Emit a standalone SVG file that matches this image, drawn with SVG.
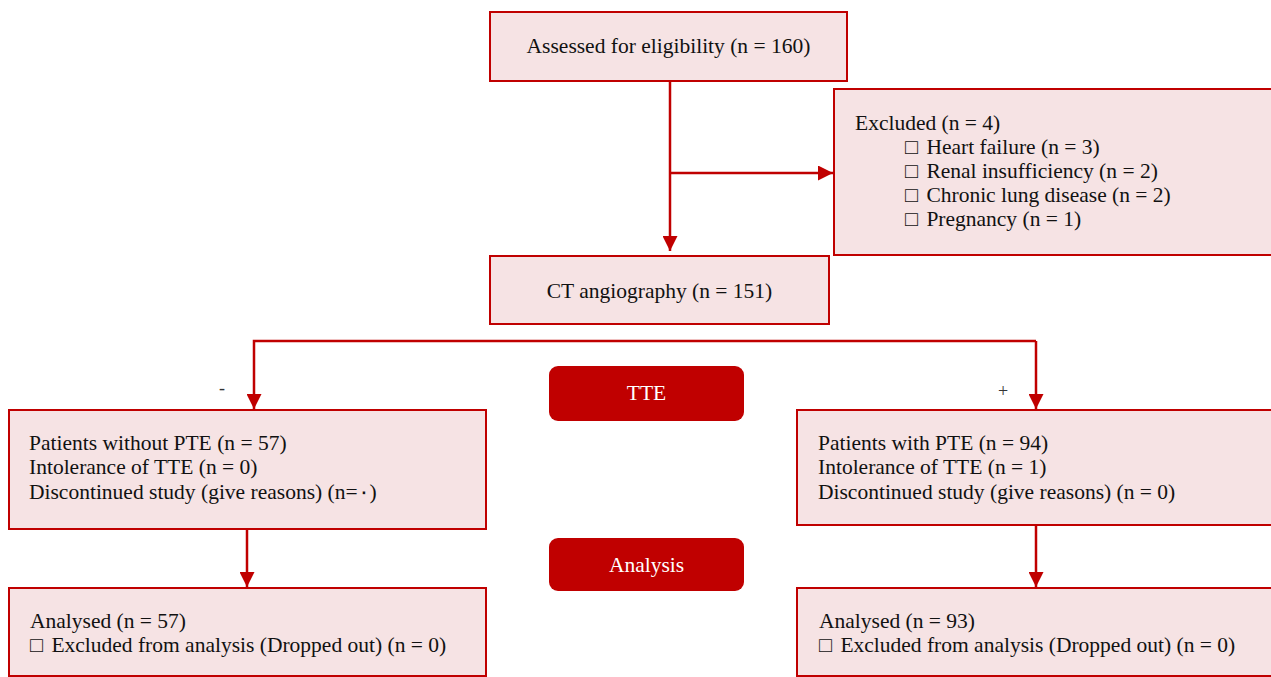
<svg xmlns="http://www.w3.org/2000/svg" width="1271" height="677" viewBox="0 0 1271 677">
<style>
.box{fill:#F6E3E4;stroke:#C00000;stroke-width:2}
.btn{fill:#C00000}
.t{font-family:"Liberation Serif","Times New Roman",serif;font-size:21.5px;fill:#111}
.w{font-family:"Liberation Serif","Times New Roman",serif;font-size:21.5px;fill:#fff}
.c{text-anchor:middle}
.ln{fill:none;stroke:#C00000;stroke-width:2.5}
.s{font-family:"Liberation Serif","Times New Roman",serif;font-size:18px;fill:#333}
</style>
<defs>
<marker id="ah" viewBox="0 0 10 10" refX="10" refY="5" markerWidth="6" markerHeight="6" markerUnits="strokeWidth" orient="auto">
<path d="M0,0 L10,5 L0,10 z" fill="#C00000"/>
</marker>
</defs>
<rect width="1271" height="677" fill="#fff"/>
<g id="connectors">
<path class="ln" d="M670,81 V251" marker-end="url(#ah)"/>
<path class="ln" d="M670,173 H833" marker-end="url(#ah)"/>
<path class="ln" d="M1036,341 H254 V409" marker-end="url(#ah)"/>
<path class="ln" d="M1036,341 V409" marker-end="url(#ah)"/>
<path class="ln" d="M247,529 V587" marker-end="url(#ah)"/>
<path class="ln" d="M1036,525 V587" marker-end="url(#ah)"/>
<text class="s" x="219" y="394">-</text>
<text class="s" x="998" y="397">+</text>
</g>
<g id="assessed">
<rect class="box" x="490" y="12" width="357" height="69"/>
<text class="t c" x="668.5" y="53">Assessed for eligibility (n = 160)</text>
</g>
<g id="excluded">
<rect class="box" x="834" y="89" width="460" height="166"/>
<text class="t" x="855" y="130">Excluded (n = 4)</text>
<text class="t" x="905" y="154">□ <tspan dx="3">Heart failure (n = 3)</tspan></text>
<text class="t" x="905" y="178">□ <tspan dx="3">Renal insufficiency (n = 2)</tspan></text>
<text class="t" x="905" y="202">□ <tspan dx="3">Chronic lung disease (n = 2)</tspan></text>
<text class="t" x="905" y="226">□ <tspan dx="3">Pregnancy (n = 1)</tspan></text>
</g>
<g id="ct">
<rect class="box" x="490" y="256" width="339" height="68"/>
<text class="t c" x="659.5" y="298">CT angiography (n = 151)</text>
</g>
<g id="tte">
<rect class="btn" x="549" y="366" width="195" height="55" rx="9"/>
<text class="w c" x="646.5" y="400">TTE</text>
</g>
<g id="analysis">
<rect class="btn" x="549" y="538" width="195" height="53" rx="9"/>
<text class="w c" x="646.5" y="572">Analysis</text>
</g>
<g id="without">
<rect class="box" x="9" y="410" width="477" height="119"/>
<text class="t" x="29" y="450">Patients without PTE (n = 57)</text>
<text class="t" x="29" y="474">Intolerance of TTE (n = 0)</text>
<text class="t" x="29" y="499">Discontinued study (give reasons) (n=٠)</text>
</g>
<g id="with">
<rect class="box" x="797" y="410" width="500" height="115"/>
<text class="t" x="818" y="450">Patients with PTE (n = 94)</text>
<text class="t" x="818" y="474">Intolerance of TTE (n = 1)</text>
<text class="t" x="818" y="499">Discontinued study (give reasons) (n = 0)</text>
</g>
<g id="analysed-left">
<rect class="box" x="9" y="588" width="477" height="88"/>
<text class="t" x="30" y="628">Analysed (n = 57)</text>
<text class="t" x="30" y="652">□ <tspan dx="3">Excluded from analysis (Dropped out) (n = 0)</tspan></text>
</g>
<g id="analysed-right">
<rect class="box" x="797" y="588" width="500" height="88"/>
<text class="t" x="819" y="628">Analysed (n = 93)</text>
<text class="t" x="819" y="652">□ <tspan dx="3">Excluded from analysis (Dropped out) (n = 0)</tspan></text>
</g>
</svg>
